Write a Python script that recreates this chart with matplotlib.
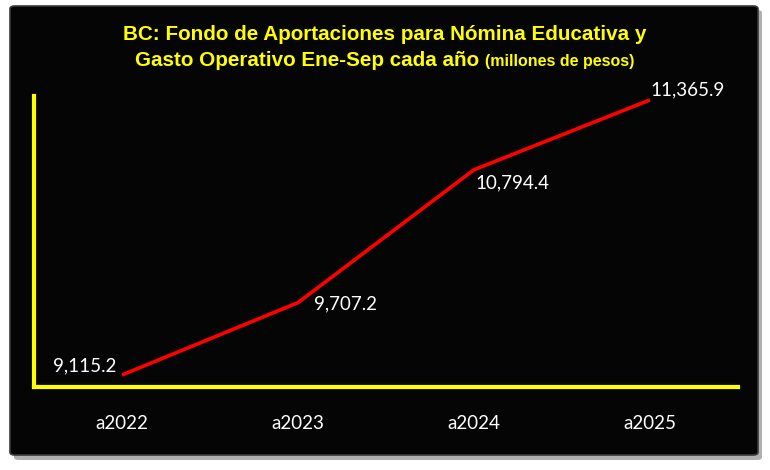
import matplotlib.pyplot as plt
from matplotlib.patches import FancyBboxPatch

# datos
anios = ['a2022', 'a2023', 'a2024', 'a2025']
valores = [9115.2, 9707.2, 10794.4, 11365.9]
etiquetas = ['9,115.2', '9,707.2', '10,794.4', '11,365.9']

fig = plt.figure(figsize=(7.7, 4.7), dpi=100)
fig.patch.set_facecolor('white')

# sombra y panel negro
W, H = 770, 470
sombra = FancyBboxPatch((14 / W, 1 - 460 / H), 748 / W, 450 / H,
                        boxstyle='round,pad=0,rounding_size=0.006',
                        transform=fig.transFigure, facecolor='#b0b0b0',
                        edgecolor='none', zorder=0)
panel = FancyBboxPatch((10 / W, 1 - 455 / H), 748 / W, 449 / H,
                       boxstyle='round,pad=0,rounding_size=0.006',
                       transform=fig.transFigure, facecolor='#050505',
                       edgecolor='#3a3a3a', linewidth=1.2, zorder=1)
fig.patches.extend([sombra, panel])

ax = fig.add_axes([34 / W, 1 - 387 / H, (738 - 34) / W, (387 - 96) / H])
ax.set_facecolor('none')
ax.set_zorder(2)

x = list(range(len(anios)))
ax.plot(x, valores, color='#ff0000', linewidth=2.6, solid_capstyle='butt')

ax.set_xlim(-0.5, 3.5)
ax.set_ylim(9017, 11398)

for s in ['top', 'right']:
    ax.spines[s].set_visible(False)
for s in ['left', 'bottom']:
    ax.spines[s].set_color('#ffff00')
    ax.spines[s].set_linewidth(3)

ax.set_yticks([])
ax.set_xticks(x)
ax.set_xticklabels(anios, color='white', fontsize=13.5, family='Lato')
ax.tick_params(axis='x', length=0, pad=20)

# etiquetas de datos
offsets = [(-27, 6.5), (34.5, -1), (28, -9.5), (27, 7)]
for xi, v, lab, off in zip(x, valores, etiquetas, offsets):
    ax.annotate(lab, (xi, v), xytext=off, textcoords='offset points',
                ha='center', va='center', color='white', fontsize=13.5,
                family='Lato')

# titulo
amarillo = '#ffff00'
t1 = fig.text(0.5, 1 - 35 / H, 'BC: Fondo de Aportaciones para Nómina Educativa y',
              ha='center', va='center', color=amarillo, fontsize=14.9,
              fontweight='bold', family='Liberation Sans')
t2a = fig.text(0, 1 - 60 / H, 'Gasto Operativo Ene-Sep cada año ',
               ha='left', va='baseline', color=amarillo, fontsize=14.9,
               fontweight='bold', family='Liberation Sans')
t2b = fig.text(0, 1 - 60 / H, '(millones de pesos)',
               ha='left', va='baseline', color=amarillo, fontsize=11.5,
               fontweight='bold', family='Liberation Sans')
fig.canvas.draw()
r = fig.canvas.get_renderer()
w1 = t2a.get_window_extent(r).width
w2 = t2b.get_window_extent(r).width
x0 = (W - (w1 + w2)) / 2
t2a.set_x(x0 / W)
t2b.set_x((x0 + w1) / W)
t2a.set_y(1 - 66 / H)
t2b.set_y(1 - 66 / H)

fig.savefig('out.png', dpi=100, facecolor='white')
